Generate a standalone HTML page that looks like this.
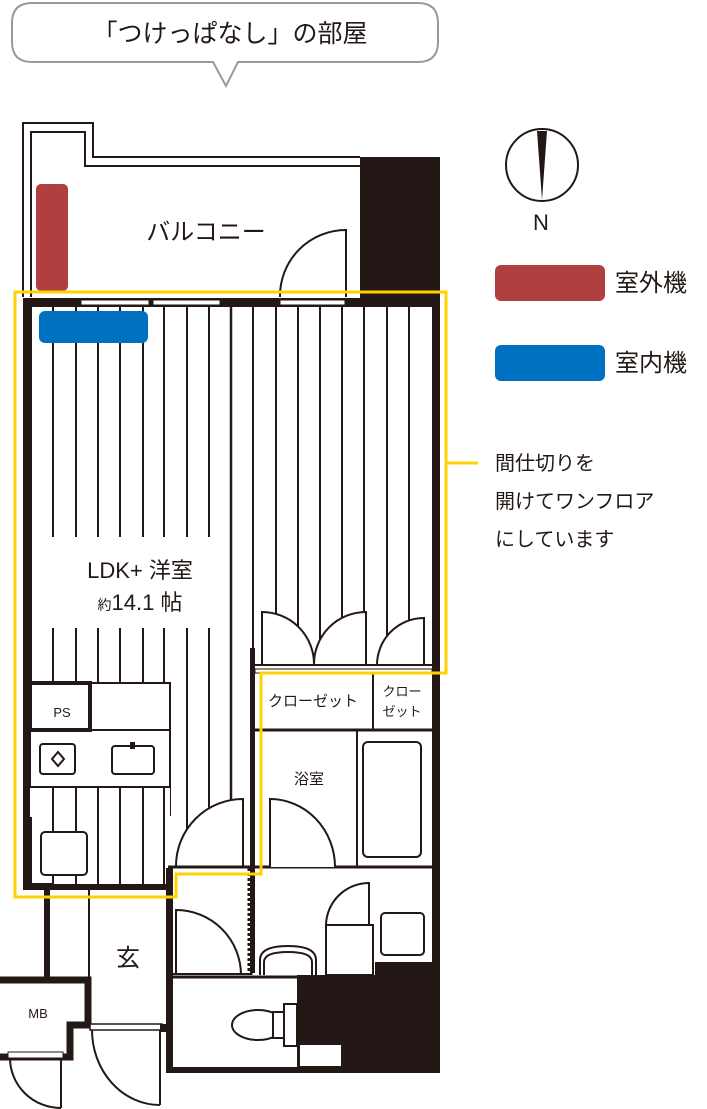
<!DOCTYPE html>
<html><head><meta charset="utf-8"><style>
html,body{margin:0;padding:0;background:#fff}
svg{display:block}
text{font-family:"Liberation Sans","Noto Sans CJK JP",sans-serif;fill:#231815}
</style></head><body>
<svg width="707" height="1109" viewBox="0 0 707 1109" xmlns="http://www.w3.org/2000/svg">
<!-- bubble -->
<path d="M32,3 H418 Q438,3 438,23 V42 Q438,62 418,62 H238 L226,86 L213,62 H32 Q12,62 12,42 V23 Q12,3 32,3 Z" fill="#fff" stroke="#999" stroke-width="2"/>
<text x="230" y="42" font-size="25" text-anchor="middle">「つけっぱなし」の部屋</text>

<g stroke="#231815" fill="none">
<!-- balcony -->
<path d="M23,297 V123 H93 V157 H360" stroke-width="2"/>
<path d="M31,297 V132 H85 V166 H360" stroke-width="2"/>
</g>
<rect x="360" y="157" width="80" height="141" fill="#231815"/>
<rect x="36" y="184" width="32" height="107" rx="5" fill="#b04040"/>
<text x="206" y="240" font-size="24" text-anchor="middle">バルコニー</text>
<path d="M346,297 V230 A66,66 0 0 0 280,297" stroke="#231815" stroke-width="2" fill="none"/>

<!-- floor lines -->
<g stroke="#231815" stroke-width="2">
<line x1="53" y1="306" x2="53" y2="886"/><line x1="76" y1="306" x2="76" y2="886"/>
<line x1="98" y1="306" x2="98" y2="886"/><line x1="120" y1="306" x2="120" y2="886"/>
<line x1="143" y1="306" x2="143" y2="886"/><line x1="164" y1="306" x2="164" y2="886"/>
<line x1="187" y1="306" x2="187" y2="866"/><line x1="209" y1="306" x2="209" y2="866"/>
<line x1="231" y1="306" x2="231" y2="800" stroke-width="2.5"/>
<line x1="253" y1="306" x2="253" y2="665"/><line x1="276" y1="306" x2="276" y2="665"/>
<line x1="298" y1="306" x2="298" y2="665"/><line x1="320" y1="306" x2="320" y2="665"/>
<line x1="342" y1="306" x2="342" y2="665"/><line x1="364" y1="306" x2="364" y2="665"/>
<line x1="387" y1="306" x2="387" y2="665"/><line x1="409" y1="306" x2="409" y2="665"/>
</g>
<!-- LDK label box -->
<rect x="50" y="537" width="171" height="91" fill="#fff"/>
<text x="140" y="578" font-size="22" text-anchor="middle">LDK+ 洋室</text>
<text x="140" y="610" font-size="22" text-anchor="middle"><tspan font-size="14">約</tspan>14.1 帖</text>
<rect x="39" y="311" width="109" height="32" rx="6" fill="#0070c0"/>

<!-- main walls -->
<rect x="23" y="298" width="417" height="9" fill="#231815"/>
<rect x="81" y="300" width="68" height="5" fill="#fff" stroke="#231815" stroke-width="1"/>
<rect x="153" y="300" width="67" height="5" fill="#fff" stroke="#231815" stroke-width="1"/>
<rect x="280" y="300" width="65" height="5" fill="#fff" stroke="#231815" stroke-width="1"/>
<rect x="23" y="298" width="9" height="592" fill="#231815"/>
<rect x="432" y="298" width="8" height="775" fill="#231815"/>
<rect x="23" y="884" width="145" height="6" fill="#231815"/>

<!-- closet doors upper right -->
<rect x="250" y="648" width="5" height="325" fill="#231815"/>
<g stroke="#231815" stroke-width="2" fill="#fff">
<path d="M262,665 V612 A52,52 0 0 1 314,665"/>
<path d="M366,665 V612 A52,52 0 0 0 314,665"/>
<path d="M424,665 V618 A47,47 0 0 0 377,665"/>
</g>
<line x1="255" y1="665" x2="432" y2="665" stroke="#231815" stroke-width="2"/>
<rect x="255" y="669" width="177" height="4" fill="#fff" stroke="#231815" stroke-width="1"/>
<!-- closets -->
<g stroke="#231815" stroke-width="2" fill="none">
<line x1="255" y1="730" x2="432" y2="730" stroke-width="3"/>
<line x1="373" y1="673" x2="373" y2="730"/>
<line x1="357" y1="730" x2="357" y2="867"/>
<rect x="363" y="742" width="58" height="115" rx="5"/>
<line x1="255" y1="867" x2="432" y2="867" stroke-width="3"/>
<path d="M270,867 V799 A65,68 0 0 1 335,867" fill="#fff"/>
</g>
<text x="313" y="706" font-size="15" text-anchor="middle">クローゼット</text>
<text x="402" y="696" font-size="13" text-anchor="middle">クロー</text>
<text x="402" y="716" font-size="13" text-anchor="middle">ゼット</text>
<text x="309" y="784" font-size="15" text-anchor="middle">浴室</text>

<!-- lower right -->
<line x1="250" y1="868" x2="250" y2="975" stroke="#231815" stroke-width="5" stroke-dasharray="3,2"/>
<g stroke="#231815" stroke-width="2" fill="#fff">
<path d="M260,975 V960 Q260,946 288,946 Q316,946 316,960 V975"/>
<path d="M264,975 V962 Q264,952 288,952 Q312,952 312,962 V975" fill="none"/>
<path d="M369,925 V883 A43,43 0 0 0 326,925"/>
<rect x="326" y="925" width="47" height="50"/>
<rect x="381" y="913" width="43" height="42" rx="4"/>
</g>
<path d="M297,975 H375 V962 H440 V1073 H297 Z" fill="#231815"/>
<rect x="300" y="1045" width="41" height="21" fill="#fff"/>

<!-- toilet room -->
<rect x="166" y="868" width="7" height="205" fill="#231815"/>
<rect x="166" y="1067" width="274" height="6" fill="#231815"/>
<line x1="168" y1="977" x2="297" y2="977" stroke="#231815" stroke-width="3"/>
<g stroke="#231815" stroke-width="2" fill="#fff">
<ellipse cx="258" cy="1025" rx="26" ry="15"/>
<rect x="273" y="1012" width="12" height="26"/>
<rect x="284" y="1004" width="13" height="42"/>
<path d="M176,975 V910 A65,65 0 0 1 241,975"/>
</g>
<line x1="173" y1="974" x2="248" y2="974" stroke="#231815" stroke-width="2"/>

<!-- LDK door -->
<g stroke="#231815" stroke-width="2" fill="#fff">
<path d="M243,866 V799 A67,67 0 0 0 176,866"/>
</g>
<line x1="168" y1="867" x2="255" y2="867" stroke="#231815" stroke-width="3"/>

<!-- kitchen -->
<rect x="30" y="683" width="140" height="132" fill="#fff" stroke="#231815" stroke-width="2"/>
<rect x="30" y="683" width="60" height="47" fill="#fff" stroke="#231815" stroke-width="4"/>
<line x1="90" y1="730" x2="170" y2="730" stroke="#231815" stroke-width="2"/>
<line x1="30" y1="787" x2="170" y2="787" stroke="#231815" stroke-width="2"/>
<rect x="30" y="787" width="140" height="30" fill="#fff"/>
<line x1="30" y1="787" x2="170" y2="787" stroke="#231815" stroke-width="2"/>
<g stroke="#231815" stroke-width="2" fill="none">
<line x1="53" y1="787" x2="53" y2="884"/><line x1="76" y1="787" x2="76" y2="884"/>
<line x1="98" y1="787" x2="98" y2="884"/><line x1="120" y1="787" x2="120" y2="884"/>
<line x1="143" y1="787" x2="143" y2="884"/><line x1="164" y1="787" x2="164" y2="884"/>
</g>
<text x="62" y="717" font-size="13" text-anchor="middle">PS</text>
<g stroke="#231815" stroke-width="2" fill="#fff">
<rect x="40" y="744" width="35" height="30" rx="3"/>
<path d="M58,752 L64,759 L58,766 L52,759 Z"/>
<rect x="112" y="746" width="42" height="28" rx="3"/>
<rect x="41" y="832" width="46" height="43" rx="4"/>
</g>
<rect x="130" y="742" width="5" height="7" fill="#231815"/>
<rect x="32" y="883" width="20" height="7" fill="#231815"/>

<!-- genkan -->
<rect x="44" y="888" width="6" height="92" fill="#231815"/>
<line x1="89" y1="890" x2="89" y2="1025" stroke="#231815" stroke-width="2"/>
<text x="128" y="966" font-size="24" text-anchor="middle">玄</text>
<!-- MB -->
<path d="M0,980 H88 V1025 H70 V1057 H0" fill="none" stroke="#231815" stroke-width="7"/>
<rect x="8" y="1052" width="55" height="6" fill="#fff" stroke="#231815" stroke-width="1"/>
<text x="38" y="1018" font-size="13" text-anchor="middle">MB</text>
<g stroke="#231815" stroke-width="2" fill="none">
<path d="M61,1108 V1058 M61,1108 A51,50 0 0 1 10,1058"/>
<path d="M160,1105 V1030 M160,1105 A68,75 0 0 1 92,1030"/>
</g>
<rect x="90" y="1024" width="72" height="6" fill="#fff" stroke="#231815" stroke-width="1.5"/>
<rect x="160" y="1024" width="13" height="8" fill="#231815"/>

<!-- yellow outline -->
<path d="M15,292 H446 V673 H261 V874 H176 V897 H15 Z" fill="none" stroke="#ffd200" stroke-width="3"/>
<line x1="446" y1="463" x2="478" y2="463" stroke="#ffd200" stroke-width="3"/>

<!-- compass -->
<circle cx="542" cy="165" r="36" fill="#fff" stroke="#231815" stroke-width="2"/>
<path d="M537,131 L547,131 L542,200 Z" fill="#231815"/>
<text x="541" y="230" font-size="22" text-anchor="middle">N</text>

<!-- legend -->
<rect x="495" y="265" width="110" height="36" rx="6" fill="#b04040"/>
<text x="615" y="291" font-size="24">室外機</text>
<rect x="495" y="345" width="110" height="36" rx="6" fill="#0070c0"/>
<text x="615" y="371" font-size="24">室内機</text>
<text x="495" y="470" font-size="20" fill="#333">間仕切りを</text>
<text x="495" y="508" font-size="20" fill="#333">開けてワンフロア</text>
<text x="495" y="546" font-size="20" fill="#333">にしています</text>
</svg>
</body></html>
